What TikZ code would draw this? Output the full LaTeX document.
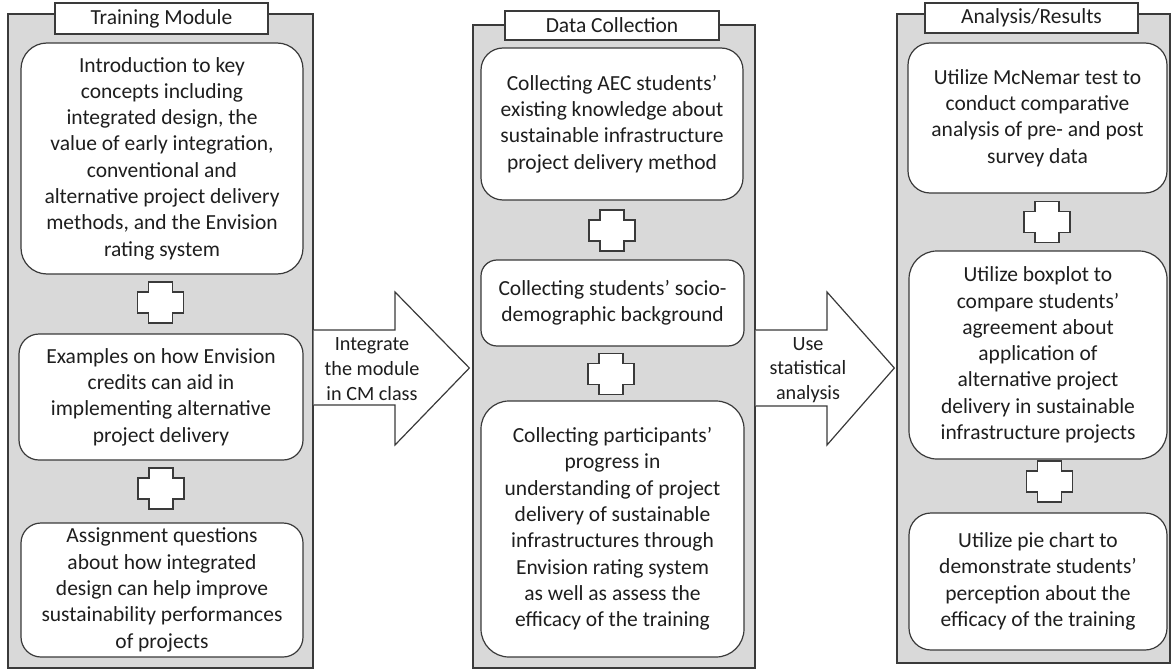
\documentclass[tikz,border=0pt]{standalone}
\usepackage{fontspec}
\setmainfont{Carlito}
\usetikzlibrary{calc}
\definecolor{panelgray}{HTML}{D9D9D9}
\definecolor{edge}{HTML}{3A3A3A}
\definecolor{ink}{HTML}{1E1E1E}
\begin{document}
\begin{tikzpicture}[x=1pt,y=-1pt,
  every node/.style={text=ink},
  panel/.style={draw=edge,line width=1.3pt,fill=panelgray,inner sep=0pt},
  header/.style={draw=edge,line width=1.3pt,fill=white,inner sep=0pt,font=\fontsize{21.5}{26.3}\selectfont},
  card/.style={draw=edge,line width=1.2pt,fill=white,inner sep=0pt,align=center,font=\fontsize{21.5}{26.3}\selectfont},
  bigarrow/.style={draw=edge,line width=1.2pt,fill=white},
  arrowtext/.style={align=center,inner sep=0pt,font=\fontsize{20.2}{24.6}\selectfont},
  plusline/.style={draw=edge,line width=1.2pt,fill=white},
  plussign/.pic={\path[plusline] (-12,-20.5) -- (12,-20.5) -- (12,-10.5) -- (23,-10.5) -- (23,10.5) -- (12,10.5) -- (12,20.5) -- (-12,20.5) -- (-12,10.5) -- (-23,10.5) -- (-23,-10.5) -- (-12,-10.5) -- cycle;}
]
\useasboundingbox (0,0) rectangle (1174,671);

% ---------- panels ----------
\node[panel,minimum width=305pt,minimum height=654pt] (P1) at (160.5,341) {};
\node[panel,minimum width=282pt,minimum height=643pt] (P2) at (614,346.5) {};
\node[panel,minimum width=273pt,minimum height=649pt] (P3) at (1033.5,338.5) {};

\node[header,minimum width=213pt,minimum height=31pt] (H1) at (161.5,18.5) {Training Module};
\node[header,minimum width=214pt,minimum height=29pt] (H2) at (612,25.5) {Data Collection};
\node[header,minimum width=213pt,minimum height=30pt] (H3) at (1031.5,18) {Analysis/Results};

% ---------- left column ----------
\node[card,rounded corners=26pt,minimum width=282pt,minimum height=231pt] (L1) at (162,158.5)
  {Introduction to key\\concepts including\\integrated design, the\\value of early integration,\\conventional and\\alternative project delivery\\methods, and the Envision\\rating system};
\pic (PL1) at (160.5,302.5) {plussign};
\node[card,rounded corners=20pt,minimum width=284pt,minimum height=126pt] (L2) at (161,397)
  {Examples on how Envision\\credits can aid in\\implementing alternative\\project delivery};
\pic (PL2) at (161,488.5) {plussign};
\node[card,rounded corners=20pt,minimum width=282pt,minimum height=134pt] (L3) at (162,590)
  {Assignment questions\\about how integrated\\design can help improve\\sustainability performances\\of projects};

% ---------- middle column ----------
\node[card,rounded corners=22pt,minimum width=262pt,minimum height=152pt] (M1) at (612,124)
  {Collecting AEC students’\\existing knowledge about\\sustainable infrastructure\\project delivery method};
\pic (PM1) at (612,230.5) {plussign};
\node[card,rounded corners=16pt,minimum width=263pt,minimum height=86pt] (M2) at (612.5,303)
  {Collecting students’ socio-\\demographic background};
\pic (PM2) at (611,374) {plussign};
\node[card,rounded corners=28pt,minimum width=263pt,minimum height=256pt] (M3) at (612.5,529)
  {Collecting participants’\\progress in\\understanding of project\\delivery of sustainable\\infrastructures through\\Envision rating system\\as well as assess the\\efficacy of the training};

% ---------- right column ----------
\node[card,rounded corners=22pt,minimum width=259pt,minimum height=150pt] (R1) at (1037.5,118)
  {Utilize McNemar test to\\conduct comparative\\analysis of pre- and post\\survey data};
\pic (PR1) at (1047,222) {plussign};
\node[card,rounded corners=28pt,minimum width=258pt,minimum height=208pt] (R2) at (1038,355)
  {Utilize boxplot to\\compare students’\\agreement about\\application of\\alternative project\\delivery in sustainable\\infrastructure projects};
\pic (PR2) at (1049.5,481.5) {plussign};
\node[card,rounded corners=22pt,minimum width=258pt,minimum height=137pt] (R3) at (1038,581.5)
  {Utilize pie chart to\\demonstrate students’\\perception about the\\efficacy of the training};

% ---------- block arrows ----------
\path[bigarrow] (P1.east |- 0,330) -- (395,330) -- (395,292) -- ($(P2.west |- 0,368)+(-3,0)$) -- (395,445) -- (395,405) -- (P1.east |- 0,405);
\node[arrowtext] (A1) at (372,369) {Integrate\\the module\\in CM class};

\path[bigarrow] (P2.east |- 0,330) -- (827,330) -- (827,292) -- ($(P3.west |- 0,368)+(-2,0)$) -- (827,445) -- (827,406) -- (P2.east |- 0,406);
\node[arrowtext] (A2) at (808,370) {Use\\statistical\\analysis};

\end{tikzpicture}
\end{document}
